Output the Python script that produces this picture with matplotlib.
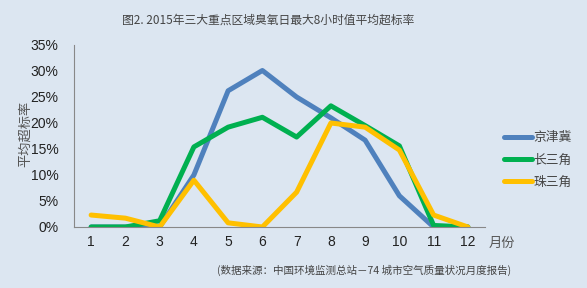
import matplotlib
matplotlib.use("Agg")
import matplotlib.pyplot as plt
from matplotlib.ticker import FuncFormatter

plt.rcParams['font.family'] = ['Liberation Sans', 'Noto Sans CJK SC', 'DejaVu Sans']

months = [1, 2, 3, 4, 5, 6, 7, 8, 9, 10, 11, 12]
month_labels = ["1", "2", "3", "4", "5", "6", "7", "8", "9", "10", "11", "12"]
jjj = [0, 0, 0, 10, 26.2, 30.1, 25, 21, 16.7, 6, 0, 0]
csj = [0, 0, 1.2, 15.4, 19.2, 21.1, 17.3, 23.3, 19.5, 15.6, 0.3, 0]
zsj = [2.3, 1.7, 0, 9, 0.8, 0, 6.7, 20, 19.2, 14.8, 2.3, 0]
series_names = ["京津冀", "长三角", "珠三角"]
yticks = [0, 5, 10, 15, 20, 25, 30, 35]

cjk = ['Noto Sans CJK SC', 'DejaVu Sans']
bg = "#dce6f1"
fig = plt.figure(figsize=(5.87, 2.88), dpi=100, facecolor=bg)
ax = fig.add_axes([74/587, 1-227/288, (485-74)/587, (227-45)/288], facecolor=bg)

colors = ["#4f81bd", "#00b050", "#ffc000"]
for data, name, c in zip([jjj, csj, zsj], series_names, colors):
    ax.plot(months, data, color=c, lw=3.6, label=name, solid_capstyle='round', solid_joinstyle='round')

ax.set_xlim(0.5, 12.5)
ax.set_ylim(0, 35)
ax.set_yticks(yticks)
ax.yaxis.set_major_formatter(FuncFormatter(lambda v, p: f"{int(v)}%"))
ax.set_xticks(months)
ax.set_xticklabels(month_labels)
ax.tick_params(length=0, labelsize=10, colors="#222222", pad=6)
ax.tick_params(axis='y', pad=11)
for s in ["top", "right"]:
    ax.spines[s].set_visible(False)
for s in ["left", "bottom"]:
    ax.spines[s].set_color("#888888")
    ax.spines[s].set_linewidth(0.8)

fig.text(268/587, 1-20/288, "图2. 2015年三大重点区域臭氧日最大8小时值平均超标率",
         ha="center", va="center", fontsize=8.5, color="#444444", family=cjk)
fig.text(25/587, 1-134/288, "平均超标率", rotation=90, ha="center", va="center",
         fontsize=9.5, color="#555555", family=cjk)
fig.text(489/587, 1-243/288, "月份", ha="left", va="center", fontsize=9.5,
         color="#555555", family=cjk)
fig.text(511/587, 1-270/288, "(数据来源：中国环境监测总站－74 城市空气质量状况月度报告)",
         ha="right", va="center", fontsize=7.6, color="#444444", family=cjk)

leg = fig.legend(loc="center left", bbox_to_anchor=(504/587, 1-160/288), frameon=False,
                 borderpad=0, borderaxespad=0,
                 handlelength=2.2, handletextpad=0.1, labelspacing=0.72,
                 prop={'family': cjk, 'size': 9.2})
for t in leg.get_texts():
    t.set_color("#444444")

fig.savefig("out.png", dpi=100, facecolor=bg)
